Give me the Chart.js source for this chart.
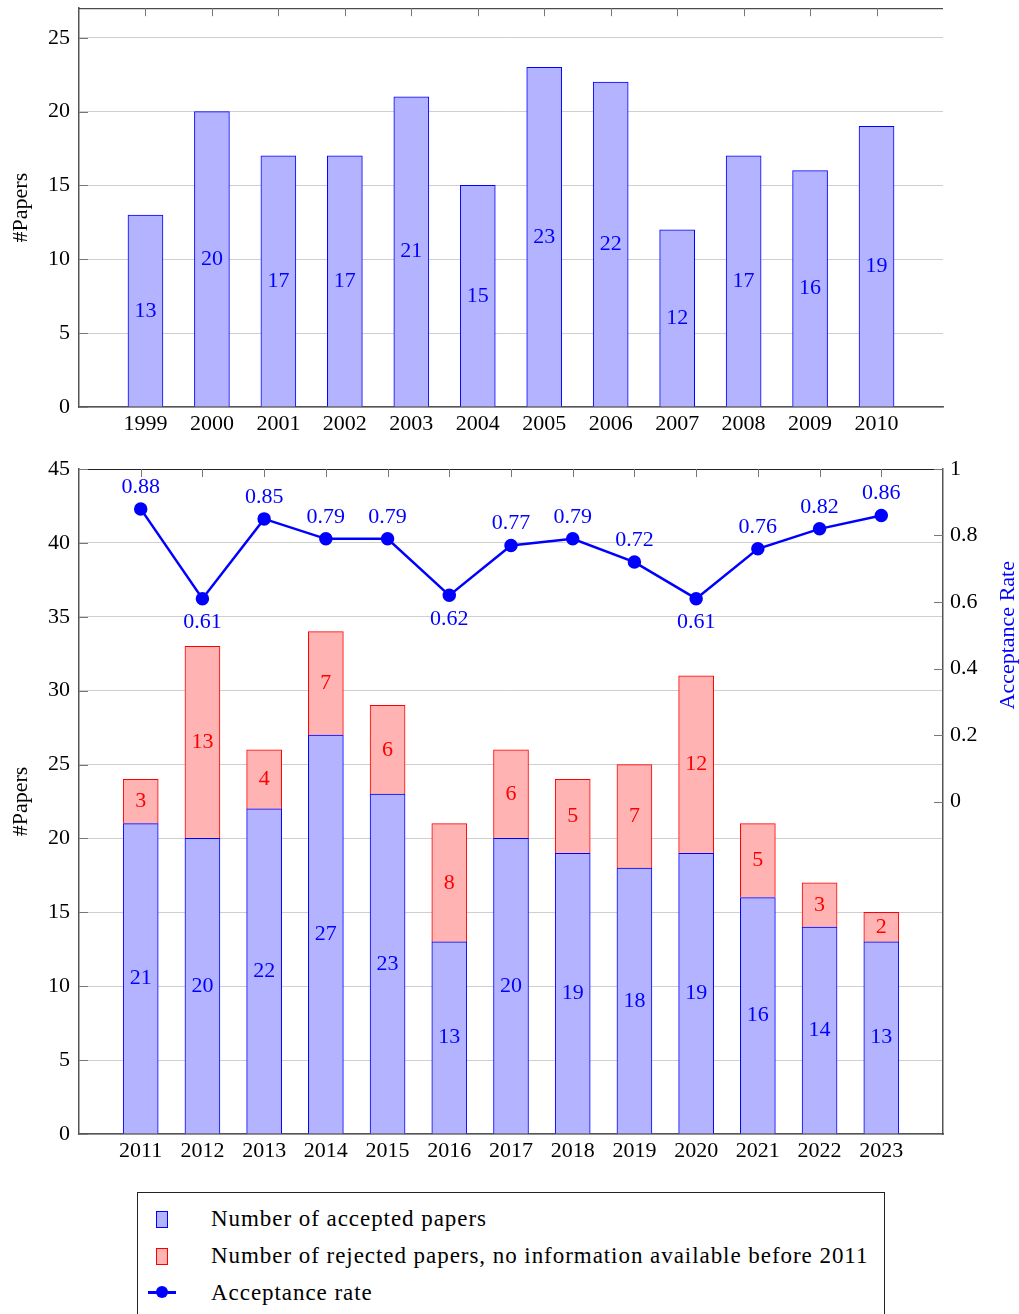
<!DOCTYPE html>
<html lang="en">
<head>
    <meta charset="UTF-8">
    <title>Papers per year</title>
    <script src="https://cdn.jsdelivr.net/npm/chart.js"></script>
    <style>
        body { margin: 0; background: #fff; font-family: 'Liberation Serif', serif; overflow: hidden; }
        #topBox { position: absolute; left: 0; top: -14px; width: 1019px; height: 454px; }
        #botBox { position: absolute; left: 0; top: 445px; width: 1019px; height: 745px; }
        #legend {
            position: absolute; left: 137px; top: 1192px; width: 748px; height: 130px;
            border: 1px solid #222; box-sizing: border-box; padding-top: 7px;
        }
        .row { position: relative; height: 37px; line-height: 37px; font-size: 23px; letter-spacing: 0.95px; }
        .row .txt { position: absolute; left: 73px; top: 0; white-space: nowrap; }
        .row .box { position: absolute; left: 18px; top: 11px; width: 10px; height: 15px; }
        .row .ln { position: absolute; left: 10px; top: 17px; width: 28px; height: 2.5px; background: #0000ff; }
        .row .dot { position: absolute; left: 18px; top: 12px; width: 12px; height: 12px; border-radius: 6px; background: #0000ff; }
    </style>
</head>
<body>
    <div id="topBox"><canvas id="topChart"></canvas></div>
    <div id="botBox"><canvas id="botChart"></canvas></div>
    <div id="legend"></div>

    <script>
        // --- data ---
        const earlyYears = ['1999', '2000', '2001', '2002', '2003', '2004', '2005', '2006', '2007', '2008', '2009', '2010'];
        const earlyAccepted = [13, 20, 17, 17, 21, 15, 23, 22, 12, 17, 16, 19];

        const lateYears = ['2011', '2012', '2013', '2014', '2015', '2016', '2017', '2018', '2019', '2020', '2021', '2022', '2023'];
        const lateAccepted = [21, 20, 22, 27, 23, 13, 20, 19, 18, 19, 16, 14, 13];
        const lateRejected = [3, 13, 4, 7, 6, 8, 6, 5, 7, 12, 5, 3, 2];
        const acceptRate = [0.88, 0.61, 0.85, 0.79, 0.79, 0.62, 0.77, 0.79, 0.72, 0.61, 0.76, 0.82, 0.86];

        const leftTicks = [0, 5, 10, 15, 20, 25];
        const rightTicks = [0, 0.2, 0.4, 0.6, 0.8, 1];

        const legendLabels = [
            'Number of accepted papers',
            'Number of rejected papers, no information available before 2011',
            'Acceptance rate'
        ];

        const BLUE = '#0000ff', RED = '#ff0000';
        const BLUE_FILL = 'rgb(179,179,255)', RED_FILL = 'rgb(255,179,179)';
        const FONT = "22px 'Liberation Serif', serif";

        Chart.defaults.font.family = "'Liberation Serif', serif";
        Chart.defaults.font.size = 22;
        Chart.defaults.color = '#000';

        // pad one empty category on each side (pgfplots enlarges x limits by a full step)
        const pad = arr => ['', ...arr, ''];
        const padData = arr => [null, ...arr, null];

        // numbers inside bars / next to points
        const valueLabels = {
            id: 'valueLabels',
            afterDatasetsDraw(chart) {
                const ctx = chart.ctx;
                ctx.save();
                ctx.font = FONT;
                ctx.textAlign = 'center';
                ctx.textBaseline = 'middle';
                chart.data.datasets.forEach((ds, i) => {
                    const meta = chart.getDatasetMeta(i);
                    meta.data.forEach((el, j) => {
                        const v = ds.data[j];
                        if (v == null) return;
                        ctx.fillStyle = ds.labelColor;
                        if (ds.type === 'line') {
                            const prev = ds.data[j - 1], next = ds.data[j + 1];
                            const isMin = (prev == null || v < prev) && (next == null || v < next);
                            ctx.fillText(v.toFixed(2), el.x, isMin ? el.y + 24 : el.y - 22);
                        } else {
                            ctx.fillText(String(v), el.x, (el.y + el.base) / 2);
                        }
                    });
                });
                ctx.restore();
            }
        };

        // top frame line, inside tick marks, right axis title
        const frame = {
            id: 'frame',
            afterDraw(chart, args, opts) {
                const ctx = chart.ctx, a = chart.chartArea;
                ctx.save();
                ctx.strokeStyle = '#222';
                ctx.lineWidth = 1;
                ctx.beginPath();
                ctx.moveTo(a.left, a.top + 0.5);
                ctx.lineTo(a.right, a.top + 0.5);
                ctx.stroke();

                ctx.strokeStyle = '#777';
                const xs = chart.scales.x;
                chart.data.labels.forEach((lab, i) => {
                    if (lab === '') return;
                    const px = Math.round(xs.getPixelForValue(i)) + 0.5;
                    ctx.beginPath();
                    ctx.moveTo(px, a.top);
                    ctx.lineTo(px, a.top + 8);
                    ctx.stroke();
                });
                chart.scales.y.ticks.forEach(t => {
                    const py = Math.round(chart.scales.y.getPixelForValue(t.value)) + 0.5;
                    ctx.beginPath();
                    ctx.moveTo(a.left, py);
                    ctx.lineTo(a.left + 9, py);
                    ctx.stroke();
                });
                const y2 = chart.scales.y2;
                if (y2) {
                    y2.ticks.forEach(t => {
                        const py = Math.round(y2.getPixelForValue(t.value)) + 0.5;
                        ctx.beginPath();
                        ctx.moveTo(a.right - 9, py);
                        ctx.lineTo(a.right, py);
                        ctx.stroke();
                    });
                    ctx.fillStyle = BLUE;
                    ctx.font = FONT;
                    ctx.textAlign = 'center';
                    ctx.textBaseline = 'middle';
                    ctx.translate(a.right + 65, y2.getPixelForValue(0.5));
                    ctx.rotate(-Math.PI / 2);
                    ctx.fillText(opts.rightTitle, 0, 0);
                }
                ctx.restore();
            }
        };

        const yTitle = { display: true, text: '#Papers', padding: { top: 8, bottom: 0 } };

        new Chart(document.getElementById('topChart'), {
            type: 'bar',
            data: {
                labels: pad(earlyYears),
                datasets: [{
                    label: legendLabels[0],
                    data: padData(earlyAccepted),
                    backgroundColor: BLUE_FILL,
                    borderColor: BLUE,
                    borderWidth: 1,
                    barThickness: 35,
                    labelColor: BLUE
                }]
            },
            options: {
                responsive: true,
                maintainAspectRatio: false,
                animation: false,
                layout: { padding: { top: 8, right: 76, left: 0, bottom: 0 } },
                plugins: { legend: { display: false }, tooltip: { enabled: false }, frame: {} },
                scales: {
                    x: {
                        offset: false,
                        grid: { display: false, drawTicks: false },
                        border: { color: '#555', width: 1.5 },
                        ticks: { padding: 4, autoSkip: false, maxRotation: 0 },
                        afterFit(s) { s.height = 33; }
                    },
                    y: {
                        min: 0, max: 27,
                        afterBuildTicks(s) { s.ticks = leftTicks.map(v => ({ value: v })); },
                        grid: { color: '#cfcfcf', drawTicks: false },
                        border: { color: '#555', width: 1.5 },
                        ticks: { padding: 9 },
                        title: yTitle,
                        afterFit(s) { s.width = 79; }
                    }
                }
            },
            plugins: [valueLabels, frame]
        });

        new Chart(document.getElementById('botChart'), {
            data: {
                labels: pad(lateYears),
                datasets: [
                    {
                        type: 'line',
                        label: legendLabels[2],
                        data: padData(acceptRate),
                        yAxisID: 'y2',
                        borderColor: BLUE,
                        backgroundColor: BLUE,
                        borderWidth: 2.5,
                        pointRadius: 5.5,
                        tension: 0,
                        order: 0,
                        labelColor: BLUE
                    },
                    {
                        type: 'bar',
                        label: legendLabels[0],
                        data: padData(lateAccepted),
                        backgroundColor: BLUE_FILL,
                        borderColor: BLUE,
                        borderWidth: 1,
                        barThickness: 35,
                        order: 1,
                        labelColor: BLUE
                    },
                    {
                        type: 'bar',
                        label: legendLabels[1],
                        data: padData(lateRejected),
                        backgroundColor: RED_FILL,
                        borderColor: RED,
                        borderWidth: 1,
                        barThickness: 35,
                        order: 1,
                        labelColor: RED
                    }
                ]
            },
            options: {
                responsive: true,
                maintainAspectRatio: false,
                animation: false,
                layout: { padding: { top: 24, right: 0, left: 0, bottom: 0 } },
                plugins: {
                    legend: { display: false },
                    tooltip: { enabled: false },
                    frame: { rightTitle: 'Acceptance Rate' }
                },
                scales: {
                    x: {
                        stacked: true,
                        offset: false,
                        grid: { display: false, drawTicks: false },
                        border: { color: '#555', width: 1.5 },
                        ticks: { padding: 4, autoSkip: false, maxRotation: 0 },
                        afterFit(s) { s.height = 56; }
                    },
                    y: {
                        stacked: true,
                        min: 0, max: 45,
                        ticks: { stepSize: 5, padding: 9 },
                        grid: { color: '#cfcfcf', drawTicks: false },
                        border: { color: '#555', width: 1.5 },
                        title: yTitle,
                        afterFit(s) { s.width = 79; }
                    },
                    y2: {
                        position: 'right',
                        min: -1, max: 1,
                        afterBuildTicks(s) { s.ticks = rightTicks.map(v => ({ value: v })); },
                        ticks: { padding: 7, callback: v => String(Math.round(v * 10) / 10) },
                        grid: { drawOnChartArea: false, drawTicks: false },
                        border: { color: '#555', width: 1.5 },
                        afterFit(s) { s.width = 76; }
                    }
                }
            },
            plugins: [valueLabels, frame]
        });

        // legend box under the charts
        const legendItems = [
            { text: legendLabels[0], kind: 'box', fill: BLUE_FILL, stroke: BLUE },
            { text: legendLabels[1], kind: 'box', fill: RED_FILL, stroke: RED },
            { text: legendLabels[2], kind: 'line' }
        ];
        const legend = document.getElementById('legend');
        legendItems.forEach(item => {
            const row = document.createElement('div');
            row.className = 'row';
            if (item.kind === 'box') {
                const b = document.createElement('div');
                b.className = 'box';
                b.style.background = item.fill;
                b.style.border = '1px solid ' + item.stroke;
                row.appendChild(b);
            } else {
                const l = document.createElement('div');
                l.className = 'ln';
                const d = document.createElement('div');
                d.className = 'dot';
                row.appendChild(l);
                row.appendChild(d);
            }
            const t = document.createElement('span');
            t.className = 'txt';
            t.textContent = item.text;
            row.appendChild(t);
            legend.appendChild(row);
        });
    </script>
</body>
</html>
